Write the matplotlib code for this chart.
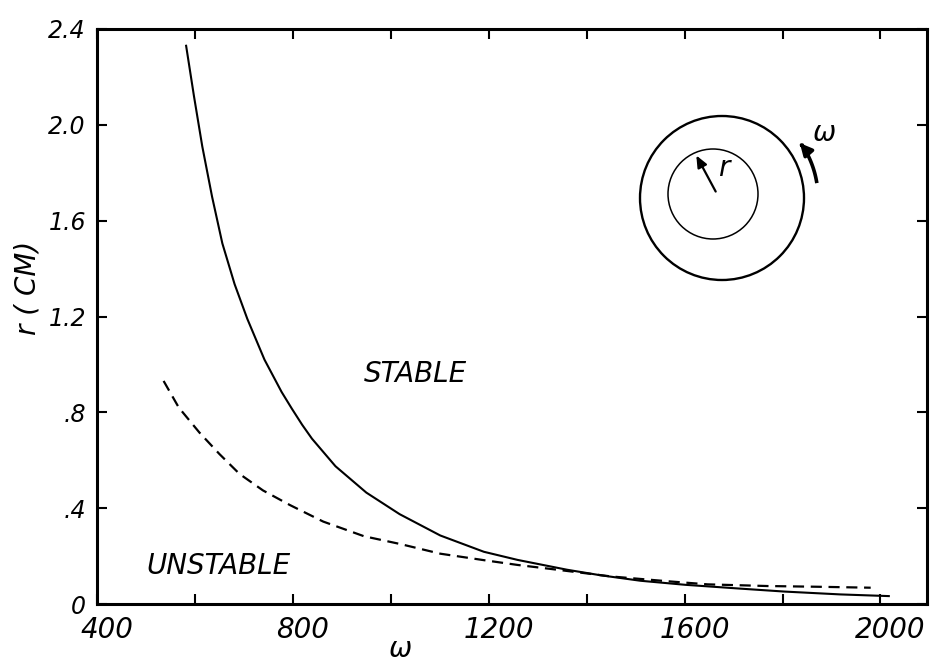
import numpy as np
import matplotlib
matplotlib.use("Agg")
import matplotlib.pyplot as plt
from matplotlib.patches import Circle
from matplotlib.ticker import FixedLocator, FuncFormatter
import matplotlib.transforms as mtransforms

# stability boundary (solid line)
omega_solid = [582, 598, 615, 635, 656, 681, 707, 742, 777, 798, 819, 839, 887, 950,
               1018, 1101, 1190, 1259, 1360, 1428, 1510, 1602, 1715, 1803, 1918, 2017]
r_solid = [2.33, 2.12, 1.91, 1.70, 1.505, 1.335, 1.19, 1.02, 0.885, 0.815, 0.748, 0.69,
           0.575, 0.465, 0.375, 0.286, 0.218, 0.184, 0.143, 0.12, 0.097, 0.08,
           0.064, 0.052, 0.04, 0.033]

# second curve (dashed line)
omega_dashed = [536, 567, 609, 650, 691, 739, 794, 862, 945, 1020, 1101, 1190, 1259,
                1340, 1450, 1565, 1647, 1769, 1871, 1980]
r_dashed = [0.931, 0.82, 0.716, 0.626, 0.543, 0.474, 0.413, 0.344, 0.283, 0.25, 0.21,
            0.183, 0.163, 0.143, 0.115, 0.095, 0.082, 0.075, 0.072, 0.068]

x_ticks = [400, 600, 800, 1000, 1200, 1400, 1600, 1800, 2000]
y_ticks = [0, 0.4, 0.8, 1.2, 1.6, 2.0, 2.4]
y_tick_labels = ['0', '.4', '.8', '1.2', '1.6', '2.0', '2.4']

fig = plt.figure(figsize=(9.31, 6.63), dpi=100)
ax = fig.add_axes([97 / 931, 1 - 604 / 663, 830 / 931, 575 / 663])

ax.plot(omega_solid, r_solid, color='black', lw=1.5)
ax.plot(omega_dashed, r_dashed, color='black', lw=1.6, dashes=(5, 3))

ax.set_xlim(400, 2095)
ax.set_ylim(0, 2.4)

ax.xaxis.set_major_locator(FixedLocator(x_ticks))
ax.xaxis.set_major_formatter(FuncFormatter(lambda v, p: '%d' % v if v % 400 == 0 else ''))
ax.yaxis.set_major_locator(FixedLocator(y_ticks))
ax.set_yticklabels(y_tick_labels)

ax.tick_params(direction='in', length=7, width=1.5, top=True, right=True)
ax.tick_params(axis='x', labelsize=20, pad=9)
ax.tick_params(axis='y', labelsize=17, pad=8)
for lab in ax.get_xticklabels() + ax.get_yticklabels():
    lab.set_fontstyle('italic')
# hand lettered labels sit a bit right of the ticks
offset = mtransforms.ScaledTranslation(10 / 100, 0, fig.dpi_scale_trans)
for lab in ax.get_xticklabels():
    lab.set_transform(lab.get_transform() + offset)

for s in ax.spines.values():
    s.set_linewidth(2.2)

ax.set_ylabel('r ( CM)', fontsize=20, fontstyle='italic')
ax.yaxis.set_label_coords(-0.067, 0.55)
ax.text(0.366, -0.078, 'ω', transform=ax.transAxes, fontsize=20, fontstyle='italic',
        ha='center', va='center')

ax.text(1050, 0.96, 'STABLE', fontsize=20, fontstyle='italic', ha='center', va='center')
ax.text(649, 0.16, 'UNSTABLE', fontsize=20, fontstyle='italic', ha='center', va='center')

# inset sketch of the rotating cylinder, drawn in pixel coords
ov = fig.add_axes([0, 0, 1, 1], facecolor='none')
ov.set_xlim(0, 931)
ov.set_ylim(663, 0)
ov.axis('off')
ov.add_patch(Circle((722, 198), 82, fill=False, lw=1.7, color='black'))
ov.add_patch(Circle((713, 194), 45, fill=False, lw=1.1, color='black'))
ov.annotate('', xy=(695, 153), xytext=(717, 194),
            arrowprops=dict(arrowstyle='-|>,head_length=0.7,head_width=0.3', color='black', lw=1.6))
ov.text(724, 168, 'r', fontsize=20, fontstyle='italic', ha='center', va='center')

ang = np.radians(np.linspace(10, 33, 20))
arc_x = 722 + 96 * np.cos(ang)
arc_y = 198 - 96 * np.sin(ang)
ov.plot(arc_x, arc_y, color='black', lw=2.6)
ov.annotate('', xy=(798, 141), xytext=(arc_x[-2], arc_y[-2]),
            arrowprops=dict(arrowstyle='-|>,head_length=0.7,head_width=0.35', color='black', lw=2.6))
ov.text(824, 133, 'ω', fontsize=20, fontstyle='italic', ha='center', va='center')

fig.savefig('out.png', dpi=100)
